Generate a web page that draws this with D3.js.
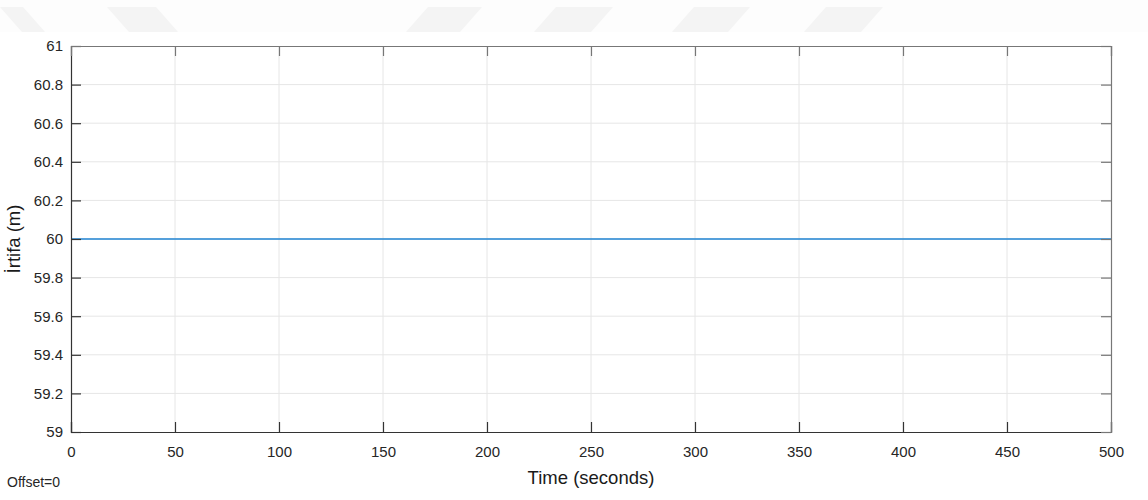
<!DOCTYPE html>
<html>
<head>
<meta charset="utf-8">
<script src="https://cdn.jsdelivr.net/npm/d3@7"></script>
<style>
  body { margin: 0; background: #fff; }
  svg { display: block; font-family: "Liberation Sans", Arial, sans-serif; }
</style>
</head>
<body>
<svg id="chart" width="1148" height="500"></svg>
<script>
// data
const timeSec = [0, 500];
const altitude = [60, 60];
const xTicks = [0, 50, 100, 150, 200, 250, 300, 350, 400, 450, 500];
const yTicks = [59, 59.2, 59.4, 59.6, 59.8, 60, 60.2, 60.4, 60.6, 60.8, 61];

const svg = d3.select("#chart");
const plotLeft = 71, plotRight = 1111, plotTop = 46, plotBottom = 432;

// faint watermark shapes across the top strip
svg.append("rect").attr("x", 0).attr("y", 0).attr("width", 1148).attr("height", 32).attr("fill", "#fdfdfd");
const marks = [[0, 45, -1], [107, 178, -1], [406, 482, 1], [534, 613, 1], [672, 750, 1], [804, 883, 1]];
marks.forEach(m => {
  const s = 22;
  let pts;
  if (m[2] > 0) pts = [[m[0], 32], [m[1] - s, 32], [m[1], 7], [m[0] + s, 7]];
  else pts = [[m[0], 7], [m[1] - s, 7], [m[1], 32], [m[0] + s, 32]];
  svg.append("polygon").attr("points", pts.map(p => p.join(",")).join(" "))
    .attr("fill", "#f4f4f4");
});

const x = d3.scaleLinear().domain([0, 500]).range([plotLeft, plotRight]);
const y = d3.scaleLinear().domain([59, 61]).range([plotBottom, plotTop]);

// grid
svg.append("g").selectAll("line").data(xTicks.slice(1, -1)).enter().append("line")
  .attr("x1", d => x(d)).attr("x2", d => x(d)).attr("y1", plotTop).attr("y2", plotBottom)
  .attr("stroke", "#e6e6e6").attr("stroke-width", 1);
svg.append("g").selectAll("line").data(yTicks.slice(1, -1)).enter().append("line")
  .attr("y1", d => y(d)).attr("y2", d => y(d)).attr("x1", plotLeft).attr("x2", plotRight)
  .attr("stroke", "#e6e6e6").attr("stroke-width", 1);

// data line
const line = d3.line().x((d, i) => x(timeSec[i])).y(d => y(d));
svg.append("path").datum(altitude).attr("d", line)
  .attr("fill", "none").attr("stroke", "#2085d3").attr("stroke-width", 1.6);

// axes (ticks inside, like matlab)
const fmt = d => d3.format("")(+d.toFixed(1));
const xAxis = svg.append("g").attr("transform", `translate(0,${plotBottom})`)
  .call(d3.axisBottom(x).tickValues(xTicks).tickSize(-10).tickPadding(14).tickFormat(fmt));
const yAxis = svg.append("g").attr("transform", `translate(${plotLeft},0)`)
  .call(d3.axisLeft(y).tickValues(yTicks).tickSize(-10).tickPadding(8).tickFormat(fmt));
const xTop = svg.append("g").attr("transform", `translate(0,${plotTop})`)
  .call(d3.axisTop(x).tickValues(xTicks).tickSize(-10).tickFormat(""));
const yRight = svg.append("g").attr("transform", `translate(${plotRight},0)`)
  .call(d3.axisRight(y).tickValues(yTicks).tickSize(-10).tickFormat(""));

[xAxis, yAxis].forEach(g => {
  g.attr("font-size", 15).attr("font-family", "Liberation Sans, Arial, sans-serif");
  g.selectAll("path, line").attr("stroke", "#333").attr("stroke-width", 1.2);
  g.selectAll("text").attr("fill", "#262626");
});
[xTop, yRight].forEach(g => {
  g.selectAll("path, line").attr("stroke", "#777").attr("stroke-width", 1.2);
});

// labels
svg.append("text").attr("x", (plotLeft + plotRight) / 2).attr("y", 484)
  .attr("text-anchor", "middle").attr("font-size", 18.5).attr("fill", "#1a1a1a")
  .text("Time (seconds)");
svg.append("text").attr("transform", `translate(20,${(plotTop + plotBottom) / 2}) rotate(-90)`)
  .attr("text-anchor", "middle").attr("font-size", 18.5).attr("fill", "#1a1a1a")
  .text("İrtifa (m)");
svg.append("text").attr("x", 7).attr("y", 487)
  .attr("font-size", 14).attr("fill", "#262626")
  .text("Offset=0");
</script>
</body>
</html>
